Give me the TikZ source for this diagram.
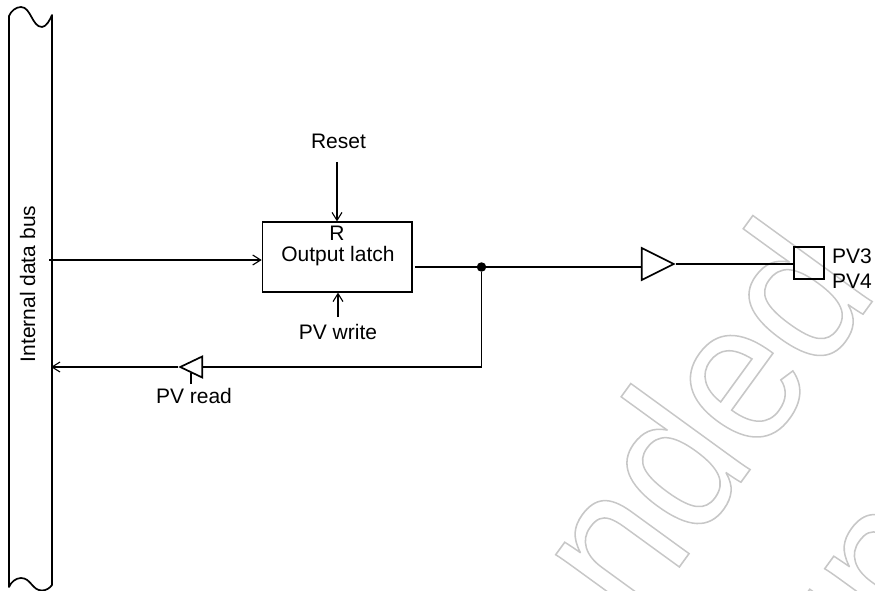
\documentclass[tikz,border=0pt]{standalone}
\usepackage{fontspec}
\setmainfont{Liberation Sans}
\usetikzlibrary{arrows.meta,shapes.geometric}
\newcommand{\outlined}[1]{\special{pdf:code q 1 Tr 1.6 w 0.78 0.78 0.78 RG}#1\special{pdf:code Q}}
\tikzset{
  x=1bp,y=-1bp,
  wire/.style={draw=black,line width=1.7bp},
  arr/.style={wire,-{Straight Barb[length=8bp,width=10bp,line width=1.1bp]}},
  lbl/.style={inner sep=0pt,anchor=base,font=\fontsize{21bp}{21bp}\selectfont},
  box/.style={draw=black,line width=1.7bp,rectangle,inner sep=0pt},
  tri/.style={draw=black,line width=1.7bp,isosceles triangle,isosceles triangle stretches,inner sep=0pt,anchor=apex},
  wm/.style={inner sep=0pt,anchor=base west,rotate=54,font=\fontsize{203bp}{203bp}\selectfont},
}
\begin{document}
\begin{tikzpicture}
\useasboundingbox (0,0) rectangle (875,591);
\clip (0,0) rectangle (875,591);
% watermark
\node[wm] (wm1) at (635,628) {\scalebox{.92}[1]{\outlined{nded}}};
\node[wm] (wm2) at (843,726) {\scalebox{.92}[1]{\outlined{un}}};
% bus
\draw[wire,line join=round] (9,16) .. controls (11,11) and (16,7) .. (21,7)
  .. controls (31,7) and (32,27) .. (42,27) .. controls (46,27) and (50,20) .. (52,15)
  -- (52,585) .. controls (50,588) and (46,590.5) .. (42,590.5)
  .. controls (32,590.5) and (31,578) .. (21,578) .. controls (16,578) and (11,582) .. (9,587) -- cycle;
\coordinate (busin) at (49,260);
\coordinate (busout) at (51,367);
\node[lbl,rotate=90] (bus) at (35,284) {Internal data bus};
% latch
\node[box,minimum width=149.5bp,minimum height=69.5bp] (latch) at (337.3,257) {};
\node[lbl] (r) at (337,240.7) {R};
\node[lbl] (ol) at (338,261.7) {Output latch};
\node[lbl] (reset) at (338.5,149) {Reset};
\coordinate (resetfrom) at (337,162);
\node[lbl] (pvw) at (338,339) {PV write};
\coordinate (pvwfrom) at (338,317);
\draw[arr] (busin) -- (busin -| latch.west);
\draw[arr] (resetfrom) -- (resetfrom |- latch.north);
\draw[arr] (pvwfrom) -- (pvwfrom |- latch.south);
% junction
\node[circle,fill=black,inner sep=0pt,minimum size=9.5bp] (dot) at (481.5,267) {};
\coordinate (corner) at (481.5,367);
% triangles
\node[tri,minimum height=32bp,minimum width=32bp] (drv) at (676,264) {};
\node[tri,shape border rotate=180,minimum height=22bp,minimum width=21bp] (rd) at (178,367) {};
\node[box,minimum width=29.7bp,minimum height=32.6bp] (pad) at (808.8,263) {};
\node[lbl,anchor=base west] (pv3) at (832,263) {PV3};
\node[lbl,anchor=base west] (pv4) at (832,288) {PV4};
% connectors
\draw[wire,shorten <=2bp] (latch.east |- dot) -- (dot);
\draw[wire] (dot) -- (dot -| drv.lower side);
\draw[wire] (drv.apex) -- (pad.west |- drv.apex);
\draw[wire] (dot) -- (corner) -- (corner -| rd.lower side);
\draw[arr] (rd.apex) -- (busout);
\node[lbl] (pvr) at (194,403) {PV read};
\coordinate (tickend) at (190.7,384);
\coordinate (tickstart) at (190.7,373);
\draw[wire] (tickend) -- (tickstart);
\end{tikzpicture}
\end{document}
